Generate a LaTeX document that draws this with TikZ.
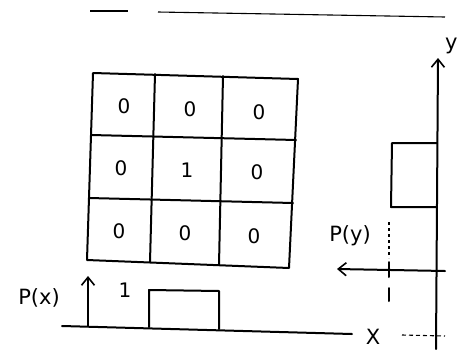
\documentclass[tikz,border=0pt]{standalone}
\usepackage{fontspec}
\setmainfont{DejaVu Sans}
\usetikzlibrary{arrows.meta}
\begin{document}
\begin{tikzpicture}[x=1pt,y=-1pt,
  ink/.style={line width=2pt,line cap=round,line join=round},
  thin/.style={line width=1.1pt},
  val/.style={font=\fontsize{20}{20}\selectfont,inner sep=0pt},
  lbl/.style={font=\fontsize{21}{21}\selectfont,inner sep=0pt},
  ahead/.style={-{Straight Barb[length=8pt,width=13pt,line width=1.6pt]}}]
\useasboundingbox (0,0) rectangle (461,349);
% top line
\draw[thin] (90,11) -- (128,11);
\draw[thin] (158,12) -- (445,17);
% grid corners
\coordinate (g00) at (93,73);  \coordinate (g10) at (155,74);
\coordinate (g20) at (223,76); \coordinate (g30) at (298,79);
\coordinate (g01) at (91,135); \coordinate (g31) at (296,140);
\coordinate (g02) at (89,198); \coordinate (g32) at (293,203);
\coordinate (g03) at (87,260); \coordinate (g13) at (150,262);
\coordinate (g23) at (219,265); \coordinate (g33) at (289,268);
\draw[ink] (g00) -- (g30) -- (g33) -- (g03) -- cycle;
\draw[ink] (g10) -- (g13);
\draw[ink] (g20) -- (g23);
\draw[ink] (g01) -- (g31);
\draw[ink] (g02) -- (g32);
% cell values
\node[val] (c11) at (124,106) {0};
\node[val] (c12) at (190,109) {0};
\node[val] (c13) at (259,112) {0};
\node[val] (c21) at (121,168) {0};
\node[val] (c22) at (187,170) {1};
\node[val] (c23) at (257,172) {0};
\node[val] (c31) at (119,231) {0};
\node[val] (c32) at (185,233) {0};
\node[val] (c33) at (254,236) {0};
% P(x) plot
\coordinate (xo) at (88,326);
\coordinate (xtop) at (88,276);
\coordinate (xl) at (62,326);
\coordinate (xr) at (352,334);
\draw[ink] (xl) -- (xr);
\draw[ink,ahead] (xo) -- (xtop);
\draw[ink] (149,327) -- (149,290) -- (219,291) -- (219,329);
\node[lbl] (px) at (39,298) {P(x)};
\node[val] (one) at (125,290) {1};
\node[lbl] (xlab) at (373,337) {X};
\draw[thin,dash pattern=on 4pt off 3pt] (402,335) -- (445,336);
% y axis
\coordinate (ybot) at (436,349);
\coordinate (ytop) at (438,58);
\draw[ink,ahead] (ybot) -- (ytop);
\node[lbl,anchor=west] (ylab) at (445,46) {y};
% P(y) box
\draw[ink] (437,143) -- (392,143) -- (391,207) -- (436,207);
% P(y) arrow
\coordinate (pyr) at (445,271);
\coordinate (pyl) at (337,269);
\draw[ink,ahead] (pyr) -- (pyl);
\node[lbl] (py) at (350,236) {P(y)};
\draw[thin,dash pattern=on 3pt off 3pt] (389,222) -- (389,258);
\draw[ink] (389,262) -- (389,277);
\draw[ink] (389,288) -- (389,301);
\end{tikzpicture}
\end{document}
